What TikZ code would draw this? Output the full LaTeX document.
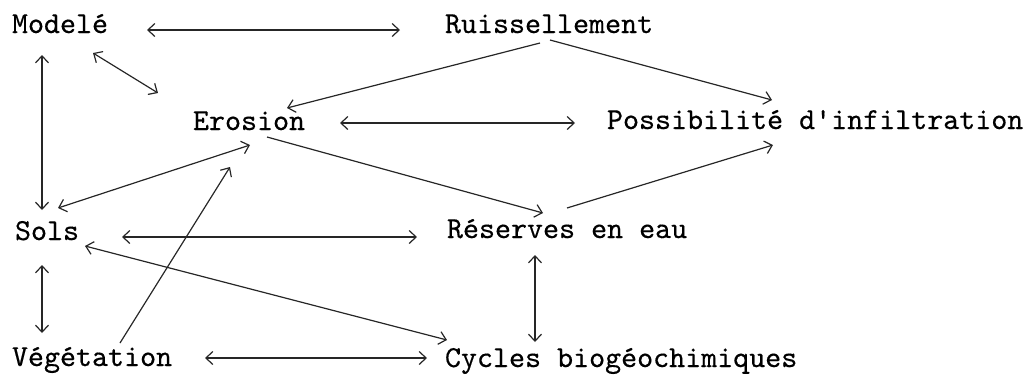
\documentclass[tikz,border=0pt]{standalone}
\usepackage{fontspec}
\usetikzlibrary{arrows.meta}
% typewriter face, slightly emboldened like a ribbon impression
\newfontfamily\typewriter{lmmono10-regular}[Extension=.otf,FakeBold=0.4]
\begin{document}
\begin{tikzpicture}[x=1pt,y=-1pt,
  term/.style={anchor=base west,inner sep=0pt,outer sep=0pt,
    font=\fontsize{30.5}{36}\selectfont\typewriter},
  link/.style={line width=1.2pt,draw=black!85},
  >={Straight Barb[length=7pt,width=13pt,line width=1.2pt]}]
\useasboundingbox (0,0) rectangle (1029,376);

% variables
\node[term] (modele)   at (12,33)  {Modelé};
\node[term] (ruiss)    at (445,33) {Ruissellement};
\node[term] (erosion)  at (193,130) {Erosion};
\node[term] (possib)   at (607,129) {Possibilité d'infiltration};
\node[term] (sols)     at (15,240) {Sols};
\node[term] (reserves) at (447,238) {Réserves en eau};
\node[term] (veget)    at (12,366) {Végétation};
\node[term] (cycles)   at (445,367) {Cycles biogéochimiques};

% relations
\draw[link,<->] ([xshift=135,yshift=3]modele.base west) -- ([xshift=-45,yshift=3]ruiss.base west);
\draw[link,<->] ([xshift=81,yshift=-20]modele.base west) -- ([xshift=-35,yshift=37]erosion.base west);
\draw[link,<->] ([xshift=30,yshift=-22]modele.base west) -- ([xshift=27,yshift=30]sols.base west);
\draw[link,->] ([xshift=95,yshift=-10]ruiss.base west) -- ([xshift=94,yshift=22]erosion.base west);
\draw[link,->] ([xshift=105,yshift=-7]ruiss.base west) -- ([xshift=165,yshift=29]possib.base west);
\draw[link,<->] ([xshift=147,yshift=7]erosion.base west) -- ([xshift=-32,yshift=6]possib.base west);
\draw[link,->] ([xshift=74,yshift=-7]erosion.base west) -- ([xshift=96,yshift=25]reserves.base west);
\draw[link,->] ([xshift=120,yshift=30]reserves.base west) -- ([xshift=166,yshift=-16]possib.base west);
\draw[link,<->] ([xshift=57,yshift=-15]erosion.base west) -- ([xshift=43,yshift=32]sols.base west);
\draw[link,->] ([xshift=108,yshift=23]veget.base west) -- ([xshift=37,yshift=-37]erosion.base west);
\draw[link,<->] ([xshift=107,yshift=3]sols.base west) -- ([xshift=-30,yshift=1]reserves.base west);
\draw[link,<->] ([xshift=70,yshift=-6]sols.base west) -- ([xshift=2,yshift=27]cycles.base west);
\draw[link,<->] ([xshift=27,yshift=-25]sols.base west) -- ([xshift=30,yshift=33]veget.base west);
\draw[link,<->] ([xshift=193,yshift=8]veget.base west) -- ([xshift=-18,yshift=9]cycles.base west);
\draw[link,<->] ([xshift=88,yshift=-17]reserves.base west) -- ([xshift=90,yshift=25]cycles.base west);
\end{tikzpicture}
\end{document}
